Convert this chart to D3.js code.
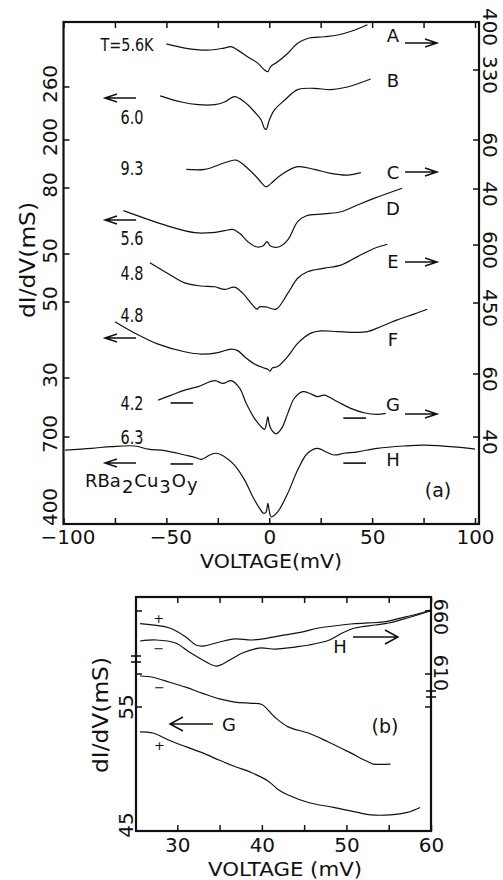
<!DOCTYPE html>
<html>
<head>
<meta charset="utf-8">
<script src="https://cdn.jsdelivr.net/npm/d3@7"></script>
<style>
  body { margin: 0; background: #fff; }
  svg { display: block; }
  text { font-family: 'DejaVu Sans', sans-serif; fill: #111; }
</style>
</head>
<body>
<script>
'use strict';

// ---- panel (a): dI/dV curves, one vertical scale per curve
const curveNames = ['A', 'B', 'C', 'D', 'E', 'F', 'G', 'H'];
const curveTemps = ['T=5.6K', '6.0', '9.3', '5.6', '4.8', '4.8', '4.2', '6.3'];
const curveSide  = ['right', 'left', 'right', 'left', 'right', 'left', 'right', 'left'];
const curveTicks = [[400, 330], [260, 200], [60, 40], [80, 50], [600, 450], [50, 30], [60, 40], [700, 400]];
const voltTicksA = [-100, -75, -50, -25, 0, 25, 50, 75, 100];

// [mV, mS]
const curveA = [[-50, 368], [-41, 362], [-30, 359], [-22, 362], [-18.6, 364], [-15.3, 359], [-10.4, 349], [-5.6, 340], [-2.3, 330], [-0.7, 327.5], [0.7, 335], [4.1, 342], [8.9, 354], [13.8, 369], [18.6, 376], [26.7, 378.5], [33.2, 381], [41.3, 388], [47.7, 396]];
const curveB = [[-53, 250], [-42.7, 243], [-34.6, 240], [-26.5, 240], [-21.7, 243], [-16.9, 249], [-12, 243], [-7.2, 232], [-4, 223], [-2.3, 213], [-1.5, 212], [0.1, 223], [2.5, 234], [7.4, 245], [13.8, 257], [21.9, 258.5], [29.9, 257], [38, 260], [49.3, 269]];
const curveC = [[-40.3, 48], [-31.4, 48], [-21.7, 50.7], [-16.1, 51.8], [-10.4, 48.4], [-5.6, 44.4], [-1.5, 40.9], [0.9, 42.3], [5.7, 45.7], [13.8, 49.1], [21.9, 48], [29.9, 46.4], [38, 45.7], [44.5, 46.7]];
const curveD = [[-70.9, 69.7], [-60.4, 66.2], [-49.2, 62.7], [-36.2, 59.7], [-28.2, 59.7], [-21.7, 60.6], [-17.7, 61.2], [-14.4, 59.4], [-10.4, 55.6], [-6.4, 53.3], [-3.1, 53.6], [-1.1, 55.6], [0.6, 53.6], [4.9, 53.3], [9, 56.4], [13.8, 64.7], [17.8, 67.3], [26.7, 68.2], [34.8, 69.2], [42.9, 72.3], [50.9, 75.3], [64.6, 79.9]];
const curveE = [[-58, 554], [-50.8, 531], [-41.1, 502], [-33.1, 494], [-26.5, 492], [-21.7, 485], [-16.9, 491], [-12.8, 475], [-8.8, 449], [-5.9, 434], [-4.7, 440], [-1.6, 440], [3.3, 434], [9, 475], [13.8, 514], [18.6, 531], [26.7, 540], [34.8, 548], [42.9, 570], [50.9, 591], [57.4, 602]];
const curveF = [[-75, 44.8], [-65.3, 41.8], [-54, 38.9], [-41.1, 36.9], [-33, 36.3], [-24.9, 36.7], [-18.5, 37.6], [-15.3, 37.2], [-12, 35.6], [-7.2, 33.7], [-2.3, 32.6], [-0.7, 32.3], [0.3, 31.8], [1.5, 32.6], [4.1, 33], [8.9, 35.6], [13.8, 39.1], [20.2, 41.8], [25.1, 42.4], [33.2, 42.2], [41.3, 42], [47.7, 42.2], [54.1, 43.5], [62.2, 45.3], [70.3, 46.8], [76.8, 48.1]];
const curveG = [[-54, 51.7], [-47.6, 53.3], [-41.1, 54.9], [-34.6, 56], [-26.5, 57.9], [-22.5, 57], [-18.5, 57.9], [-14.4, 55.5], [-11.2, 50.7], [-7.2, 45.9], [-4, 43.3], [-2.3, 42.4], [-1.5, 43.8], [-0.7, 46.4], [0.1, 43.8], [1.2, 42.2], [3.3, 41], [6.1, 42.8], [9, 47.5], [12.2, 52.3], [16.2, 54.4], [20.2, 53.7], [23.5, 52.8], [26.7, 53.3], [33.2, 51.2], [39.6, 49.1], [46.1, 47.7], [52.5, 47.2], [56.6, 47.5]];
const curveH = [[-99.2, 655], [-86.3, 661], [-76.6, 667], [-65.3, 669], [-58.8, 658], [-50.8, 653], [-41.1, 638], [-36.2, 630], [-33, 623], [-28.9, 638], [-25.7, 644], [-21.7, 632], [-16.9, 603], [-12, 552], [-8, 494], [-4.7, 454], [-2.7, 437], [-1.5, 442], [-0.7, 471], [0.1, 442], [0.9, 425], [4.1, 442], [9, 506], [13.8, 586], [18.6, 644], [23.5, 661], [27.5, 649], [31.6, 638], [36.4, 644], [42.9, 649], [52.5, 661], [65.4, 669], [75.2, 672], [91.3, 665], [100, 658]];
const curvesA = [curveA, curveB, curveC, curveD, curveE, curveF, curveG, curveH];

// short reference bars on G and H: [mV from, mV to, mS]
const barsG = [[-48, -37, 50.8], [36, 47, 46.0]];
const barsH = [[-48, -37, 607], [36, 47, 610]];

// ---- panel (b): 25-60 mV detail of G and H, + and - bias
const voltTicksB = [30, 35, 40, 45, 50, 55, 60];
const hPlus  = [[25.6, 650], [29.1, 646.5], [31, 639.4], [32.2, 633], [33, 632.2], [35, 635.4], [36.8, 637.8], [38.8, 637], [40.8, 638.6], [42.7, 641], [44.7, 643.3], [46.7, 646.5], [48.5, 648.1], [50.5, 649.7], [52.5, 650.5], [54.4, 651.3], [56.4, 654.4], [58.4, 657.6], [59.9, 660.8]];
const hMinus = [[25.6, 636.2], [27.5, 637], [29.8, 634.6], [31.4, 627.5], [33, 621.1], [34.6, 616.3], [36.2, 621.1], [37.7, 626.7], [39.7, 630.6], [41.6, 629.8], [43.9, 631.4], [45.6, 633], [48, 637], [49.5, 642.5], [51, 646.5], [53.4, 648.9], [55, 650.5], [56.4, 652.9], [58.4, 656.8], [59.9, 660]];
const gMinus = [[25.6, 57.5], [27.1, 57.4], [29.1, 57], [31, 56.6], [33, 56.1], [35, 55.65], [36.8, 55.4], [38.8, 55.3], [40, 55.2], [41.5, 54.2], [43.1, 53.4], [45.5, 52.9], [47.8, 52.2], [50.2, 51.4], [52.5, 50.6], [53.2, 50.4], [55.2, 50.4]];
const gPlus  = [[25.6, 53], [27.1, 52.9], [29.1, 52.3], [31, 51.8], [33, 51.3], [35, 50.7], [36.8, 50.2], [38.8, 49.7], [40.8, 49], [42, 48.3], [43.1, 47.9], [45.5, 47.3], [48.5, 46.9], [51.3, 46.5], [52.9, 46.3], [55.2, 46.3], [57.2, 46.5], [58.7, 46.9]];
const signsH = [['+', 27.8, 653.7], ['−', 27.8, 629.9]];
const signsG = [['−', 27.9, 56.6], ['+', 27.9, 51.9]];

const W = 503, H = 880;
const INK = '#111';

const svg = d3.select('body').append('svg').attr('width', W).attr('height', H);
svg.append('rect').attr('width', W).attr('height', H).attr('fill', '#fff');

function drawLine(x, y, data, width) {
    svg.append('path')
        .attr('d', d3.line().curve(d3.curveCatmullRom.alpha(0.5)).x(d => x(d[0])).y(d => y(d[1]))(data))
        .attr('fill', 'none')
        .attr('stroke', INK)
        .attr('stroke-width', width || 1.2)
        .attr('stroke-linejoin', 'round');
}

function seg(x1, y1, x2, y2, w) {
    svg.append('line').attr('x1', x1).attr('y1', y1).attr('x2', x2).attr('y2', y2)
        .attr('stroke', INK).attr('stroke-width', w || 1.5);
}

// open arrow, head at x2
function arrow(x1, x2, y, len, spread) {
    const s = x2 > x1 ? -1 : 1;
    svg.append('path')
        .attr('d', `M${x1},${y}L${x2},${y}M${x2 + s * len},${y - spread}L${x2},${y}L${x2 + s * len},${y + spread}`)
        .attr('fill', 'none').attr('stroke', INK).attr('stroke-width', 1.5);
}

function label(x, y, txt, size, opts) {
    opts = opts || {};
    const t = svg.append('text')
        .attr('x', x).attr('y', y)
        .attr('font-size', size)
        .attr('text-anchor', opts.anchor || 'middle')
        .attr('dominant-baseline', 'central')
        .text(txt);
    if (opts.rotate) t.attr('transform', `rotate(${opts.rotate},${x},${y})`);
    if (opts.len) t.attr('textLength', opts.len).attr('lengthAdjust', 'spacingAndGlyphs');
    return t;
}

function xAxis(scale, y, ticks, isTop, fmt, pad, size) {
    const ax = (isTop ? d3.axisTop(scale) : d3.axisBottom(scale))
        .tickValues(ticks).tickSize(-6).tickPadding(pad || 8)
        .tickFormat(isTop ? () => '' : fmt);
    const g = svg.append('g').attr('transform', `translate(0,${y})`).call(ax);
    g.select('.domain').remove();
    g.attr('font-family', null).attr('font-size', size || 20);
    g.selectAll('line').attr('stroke', INK).attr('stroke-width', 1.5);
    g.selectAll('text').attr('fill', INK);
    return g;
}

// ================= panel (a)
const fa = { left: 63.5, right: 479, top: 22, bottom: 524 };
const xA = d3.scaleLinear().domain([-100, 100]).range([63.5, 475]);
const yPixA = [[22, 70], [87, 140], [140, 189], [188, 254], [245, 303], [302, 378], [374, 437], [437, 524]];
const yA = curveTicks.map((t, i) => d3.scaleLinear().domain(t).range(yPixA[i]));

svg.append('rect')
    .attr('x', fa.left).attr('y', fa.top)
    .attr('width', fa.right - fa.left).attr('height', fa.bottom - fa.top)
    .attr('fill', 'none').attr('stroke', INK).attr('stroke-width', 2.2);

const fmtA = d => d % 50 === 0 ? (d < 0 ? '−' + Math.abs(d) : d) : '';
const axA = xAxis(xA, fa.bottom, voltTicksA, false, fmtA, 6, 20);
axA.selectAll('text').attr('dx', d => d < 0 ? 4 : 0);
xAxis(xA, fa.top, voltTicksA, true);

curveTicks.forEach((ticks, i) => {
    const left = curveSide[i] === 'left';
    ticks.forEach(v => {
        const yy = yA[i](v);
        seg(left ? fa.left : fa.right, yy, left ? fa.left + 6 : fa.right - 6, yy);
        if (left) label(50, Math.min(yy - 3, fa.bottom - 17), v, 20, { rotate: -90 });
        else label(490, Math.max(yy + 5, 12), v, 20, { rotate: 90 });
    });
});

curvesA.forEach((data, i) => drawLine(xA, yA[i], data));

barsG.forEach(b => seg(xA(b[0]), yA[6](b[2]), xA(b[1]), yA[6](b[2]), 1.6));
barsH.forEach(b => seg(xA(b[0]), yA[7](b[2]), xA(b[1]), yA[7](b[2]), 1.6));

// temperatures, curve letters and axis arrows
const tempY = [44, 117, 168, 238, 273, 315, 403, 437];
const letterY = [35, 80, 172, 208, 261, 339, 404, 459];
const arrowY = [43, 98, 172, 220, 262, 338, 414, 463];
curveNames.forEach((name, i) => {
    if (i === 0) label(127, tempY[i], curveTemps[i], 18, { len: 53 });
    else label(132, tempY[i], curveTemps[i], 19, { len: 23 });
    label(393, letterY[i], name, 18);
    if (curveSide[i] === 'right') arrow(405, 437, arrowY[i], 12, 4);
    else arrow(136, 105, arrowY[i], 12, 4);
});

const formula = svg.append('text').attr('x', 85).attr('y', 487).attr('font-size', 18);
[['RBa', 0], ['2', 6], ['Cu', -6], ['3', 6], ['O', -6], ['y', 4]].forEach(p => {
    formula.append('tspan').attr('dy', p[1]).attr('dx', p[0] === 'RBa' ? 0 : 1).text(p[0]);
});
label(438, 490, '(a)', 19);

label(28, 260, 'dI/dV(mS)', 21, { rotate: -90, len: 116 });
label(271, 561, 'VOLTAGE(mV)', 20, { len: 142 });

// ================= panel (b)
const fb = { left: 136, right: 431, top: 597, bottom: 831 };
const xB = d3.scaleLinear().domain([25, 60]).range([135, 431]);
const yGb = d3.scaleLinear().domain([45, 55]).range([831, 707]);
const yHb = d3.scaleLinear().domain([610, 660]).range([674, 611]);

svg.append('rect')
    .attr('x', fb.left).attr('y', fb.top)
    .attr('width', fb.right - fb.left).attr('height', fb.bottom - fb.top)
    .attr('fill', 'none').attr('stroke', INK).attr('stroke-width', 2.2);

xAxis(xB, fb.bottom, voltTicksB, false, d => d % 10 === 0 ? d : '', 7, 20);
xAxis(xB, fb.top, voltTicksB, true);

[yHb(660), yHb(610), yGb(55)].forEach(yy => {
    seg(fb.left, yy, fb.left + 6, yy);
    seg(fb.right, yy, fb.right - 6, yy);
});
label(126, yGb(55), 55, 20, { rotate: -90 });
label(126, yGb(45) - 6, 45, 20, { rotate: -90 });
label(441, yHb(660) + 6, 660, 19, { rotate: 90 });
label(441, yHb(610) - 1, 610, 19, { rotate: 90 });

// axis breaks
[656, 662].forEach(yy => seg(fb.left - 5, yy, fb.left + 5, yy, 1.6));
[691, 697].forEach(yy => seg(fb.right - 5, yy, fb.right + 5, yy, 1.6));

drawLine(xB, yHb, hPlus);
drawLine(xB, yHb, hMinus);
drawLine(xB, yGb, gMinus);
drawLine(xB, yGb, gPlus);

signsH.forEach(s => label(xB(s[1]), yHb(s[2]), s[0], 13));
signsG.forEach(s => label(xB(s[1]), yGb(s[2]), s[0], 13));

arrow(213, 170, 724, 13, 7);
label(229, 724, 'G', 18);
arrow(353, 398, 637, 13, 7);
label(340, 646, 'H', 18);
label(385, 726, '(b)', 19);

label(101, 715, 'dI/dV(mS)', 21, { rotate: -90, len: 116 });
label(285, 869, 'VOLTAGE (mV)', 20, { len: 154 });
</script>
</body>
</html>
